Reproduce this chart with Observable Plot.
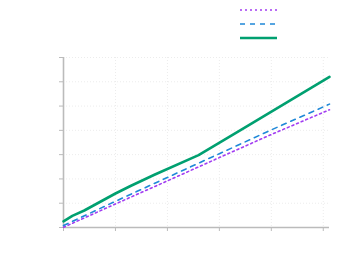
<!DOCTYPE html>
<html><head><meta charset="utf-8">
<script src="https://cdn.jsdelivr.net/npm/d3@7"></script>
<script src="https://cdn.jsdelivr.net/npm/@observablehq/plot@0.6"></script>
<style>
body{margin:0;background:#fff;font-family:"DejaVu Sans",sans-serif;}
#wrap{width:354px;}
#legend{height:50px;position:relative;}
</style>
</head><body>
<div id="wrap"><div id="legend"></div><div id="chart"></div></div>
<script>
const seriesNames = ["a", "b", "c"];
const colors = ["#a23cf2", "#1f88d8", "#00a070"];
const dashes = ["2,3", "5,5", null];
const widths = [1.6, 1.6, 2.6];

const xA = [0, 1, 2, 3, 4, 5.12];
const yA = [0.01, 0.97, 1.92, 2.88, 3.83, 4.85];
const xB = [0, 1, 2, 3, 4, 5.12];
const yB = [0.08, 1.08, 2.06, 3.04, 4.02, 5.08];
const xC = [0, 0.17, 0.4, 1.0, 1.3, 1.75, 2.6, 3.4, 4.3, 5.12];
const yC = [0.25, 0.48, 0.7, 1.4, 1.72, 2.17, 2.98, 4.0, 5.15, 6.2];

const xTicks = [0, 1, 2, 3, 4, 5];
const yTicks = [0, 1, 2, 3, 4, 5, 6, 7];

const toRows = (xs, ys) => xs.map((x, i) => ({x, y: ys[i]}));
const rows = [toRows(xA, yA), toRows(xB, yB), toRows(xC, yC)];

const chart = Plot.plot({
  width: 354, height: 225,
  marginLeft: 63, marginRight: 25, marginTop: 7, marginBottom: 48,
  x: {domain: [0, 5.12]},
  y: {domain: [0, 7]},
  marks: [
    Plot.ruleX(xTicks, {stroke: "#ececec", strokeDasharray: "1,2"}),
    Plot.ruleY(yTicks, {stroke: "#ececec", strokeDasharray: "1,2"}),
    Plot.axisX({ticks: xTicks, tickSize: 4, tickFormat: () => "", stroke: "#bbb", label: null}),
    Plot.axisY({ticks: yTicks, tickSize: 4, tickFormat: () => "", stroke: "#bbb", label: null}),
    Plot.ruleX([0], {stroke: "#bbb", strokeWidth: 1.6}),
    Plot.ruleY([0], {stroke: "#bbb", strokeWidth: 1.6}),
    ...rows.map((r, i) => Plot.line(r, {x: "x", y: "y", stroke: colors[i], strokeWidth: widths[i], strokeDasharray: dashes[i]}))
  ]
});
document.getElementById("chart").appendChild(chart);

// legend
const lg = d3.select("#legend").append("svg").attr("width", 354).attr("height", 50);
const ly = d3.scaleBand().domain(seriesNames).range([3, 45]);
seriesNames.forEach((n, i) => {
  const y = ly(n) + ly.bandwidth() / 2;
  lg.append("line").attr("x1", 240).attr("x2", 277).attr("y1", y).attr("y2", y)
    .attr("stroke", colors[i]).attr("stroke-width", widths[i])
    .attr("stroke-dasharray", dashes[i]);
});
</script>
</body></html>
